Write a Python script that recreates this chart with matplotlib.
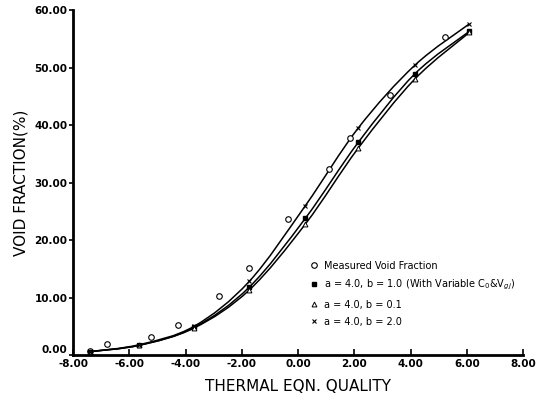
import numpy as np
import matplotlib
matplotlib.use("Agg")
import matplotlib.pyplot as plt
from matplotlib.path import Path
from matplotlib.patches import PathPatch

# measured void fraction (circles)
meas_x = [-7.40, -6.79, -5.22, -4.26, -2.80, -1.74, -0.35, 1.11, 1.86, 3.28, 5.24]
meas_y = [0.7, 1.9, 3.1, 5.2, 10.3, 15.1, 23.6, 32.3, 37.7, 45.2, 55.3]

# model predictions
model_x = [-7.40, -5.65, -3.70, -1.74, 0.26, 2.14, 4.15, 6.09]
b10_y = [0.6, 1.7, 4.8, 11.8, 23.8, 37.0, 48.9, 56.3]   # a=4.0, b=1.0
b01_y = [0.6, 1.7, 4.7, 11.3, 22.8, 36.0, 48.0, 56.1]   # a=4.0, b=0.1
b20_y = [0.6, 1.8, 5.0, 12.8, 26.0, 39.5, 50.4, 57.6]   # a=4.0, b=2.0

xticks = [-8, -6, -4, -2, 0, 2, 4, 6, 8]
yticks = [0, 10, 20, 30, 40, 50, 60]


def smooth_path(xs, ys):
    """Catmull-Rom curve through the points as cubic Bezier segments."""
    p = np.column_stack([xs, ys]).astype(float)
    verts = [p[0]]
    codes = [Path.MOVETO]
    n = len(p)
    for i in range(n - 1):
        p0 = p[i - 1] if i > 0 else p[i]
        p3 = p[i + 2] if i + 2 < n else p[i + 1]
        c1 = p[i] + (p[i + 1] - p0) / 6.0
        c2 = p[i + 1] - (p3 - p[i]) / 6.0
        verts += [c1, c2, p[i + 1]]
        codes += [Path.CURVE4] * 3
    return Path(verts, codes)


fig = plt.figure(figsize=(5.46, 4.03), dpi=100)
ax = fig.add_axes([0.134, 0.119, 0.824, 0.856])

for ys in (b10_y, b01_y, b20_y):
    ax.add_patch(PathPatch(smooth_path(model_x, ys), fill=False, lw=1.1, color="black"))

ax.plot(meas_x, meas_y, "o", ms=4, mfc="white", mec="black", mew=0.8,
        ls="none", label="Measured Void Fraction")
ax.plot(model_x, b10_y, "s", ms=3.5, mfc="black", mec="black",
        ls="none", label=r"a = 4.0, b = 1.0 (With Variable C$_0$&V$_{gj}$)")
ax.plot(model_x, b01_y, "^", ms=3.5, mfc="white", mec="black", mew=0.7,
        ls="none", label="a = 4.0, b = 0.1")
ax.plot(model_x, b20_y, "x", ms=3.5, mec="black", mew=0.8,
        ls="none", label="a = 4.0, b = 2.0")

ax.set_xlim(-8, 8)
ax.set_ylim(0, 60)
ax.set_xticks(xticks)
ax.set_yticks(yticks)
ax.set_xticklabels([f"{v:.2f}" for v in xticks], fontsize=7.5, fontweight="bold")
ax.set_yticklabels([f"{v:.2f}" for v in yticks], fontsize=7.5, fontweight="bold")
ax.tick_params(axis="x", direction="in", length=4, width=1.2, pad=3)
ax.tick_params(axis="y", direction="out", length=3, width=1.2, pad=1)
# lift the 0.00 label so it clears -8.00 below it
ax.get_yticklabels()[0].set_verticalalignment("bottom")

for s in ("top", "right"):
    ax.spines[s].set_visible(False)
for s in ("left", "bottom"):
    ax.spines[s].set_linewidth(2)

ax.set_xlabel("THERMAL EQN. QUALITY", fontsize=11, labelpad=7)
ax.set_ylabel("VOID FRACTION(%)", fontsize=11, labelpad=4)

ax.legend(loc="upper left", bbox_to_anchor=(0.515, 0.285), frameon=False,
          fontsize=7, handlelength=1, handletextpad=0.6, labelspacing=0.75,
          borderaxespad=0)

fig.savefig("out.png", dpi=100)
